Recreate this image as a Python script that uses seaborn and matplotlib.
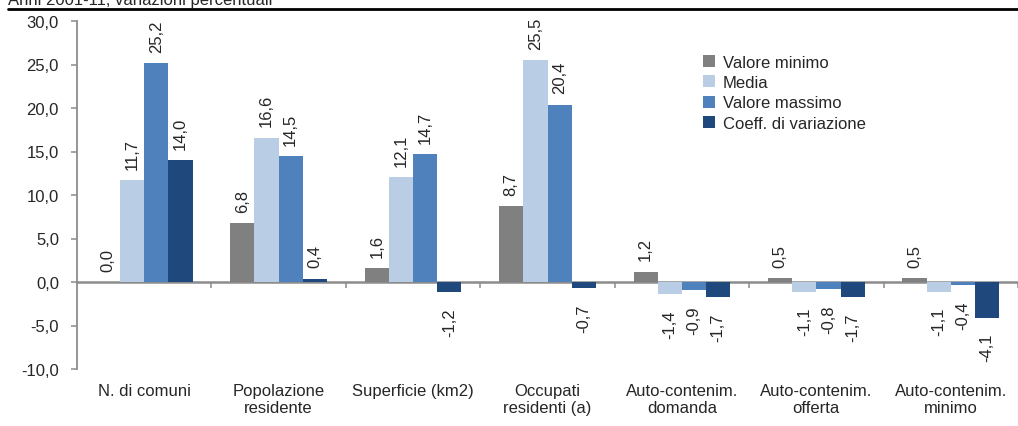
import numpy as np
import pandas as pd
import matplotlib.pyplot as plt
import matplotlib.ticker as mticker
from matplotlib.lines import Line2D
import seaborn as sns

# ---- data ----
categories = ["N. di comuni", "Popolazione\nresidente", "Superficie (km2)",
              "Occupati\nresidenti (a)", "Auto-contenim.\ndomanda",
              "Auto-contenim.\nofferta", "Auto-contenim.\nminimo"]
series_names = ["Valore minimo", "Media", "Valore massimo", "Coeff. di variazione"]
valore_minimo = [0.0, 6.8, 1.6, 8.7, 1.2, 0.5, 0.5]
media = [11.7, 16.6, 12.1, 25.5, -1.4, -1.1, -1.1]
valore_massimo = [25.2, 14.5, 14.7, 20.4, -0.9, -0.8, -0.4]
coeff_variazione = [14.0, 0.4, -1.2, -0.7, -1.7, -1.7, -4.1]
colors = ["#808080", "#b9cde5", "#4f81bd", "#1f497d"]

df = pd.DataFrame({"categoria": categories,
                   series_names[0]: valore_minimo,
                   series_names[1]: media,
                   series_names[2]: valore_massimo,
                   series_names[3]: coeff_variazione})
long = df.melt(id_vars="categoria", var_name="serie", value_name="valore")

# ---- style ----
sns.set_style("white")
plt.rcParams["font.family"] = ["Liberation Sans", "DejaVu Sans"]
plt.rcParams["font.size"] = 12
grey = "#8c8c8c"

fig = plt.figure(figsize=(10.18, 4.27), dpi=100)
ax = fig.add_axes([77 / 1018, 1 - 370 / 427, 1 - 77 / 1018, (370 - 22) / 427])

sns.barplot(data=long, x="categoria", y="valore", hue="serie",
            hue_order=series_names, palette=colors, order=categories,
            errorbar=None, width=0.72, linewidth=0, saturation=1, ax=ax)

fmt = lambda v: f"{v:.1f}".replace(".", ",")
for cont, vals in zip(ax.containers, [valore_minimo, media, valore_massimo, coeff_variazione]):
    pos = [fmt(v) if v >= 0 else "" for v in vals]
    neg = [fmt(v) if v < 0 else "" for v in vals]
    ax.bar_label(cont, labels=pos, rotation=90, padding=8, fontsize=12)
    ax.bar_label(cont, labels=neg, rotation=90, padding=11, fontsize=12)

ax.set_ylim(-10, 30)
ax.set_xlim(-0.5, len(categories) - 0.5)
ax.set_yticks(np.arange(-10, 31, 5))
ax.yaxis.set_major_formatter(mticker.FuncFormatter(lambda v, p: fmt(v)))
ax.set_xlabel("")
ax.set_ylabel("")

for s in ["top", "right", "bottom"]:
    ax.spines[s].set_visible(False)
ax.spines["left"].set_color(grey)
ax.spines["left"].set_linewidth(1.3)
ax.tick_params(axis="y", direction="out", length=4, width=1.1, color=grey,
               pad=9, labelsize=12, left=True)
ax.tick_params(axis="x", length=0, pad=10, labelsize=12)

# zero line with group separators
sec = ax.secondary_xaxis(0.25)
sec.set_xticks(np.arange(0.5, len(categories), 1.0))
sec.set_xticklabels([])
sec.tick_params(direction="out", length=4, width=1.1, color=grey)
for s in sec.spines.values():
    s.set_color(grey)
    s.set_linewidth(1.8)

ax.legend(loc="upper left", bbox_to_anchor=(0.658, 0.922), frameon=False,
          handlelength=0.75, handleheight=0.75, handletextpad=0.45,
          labelspacing=0.32, fontsize=12, borderaxespad=0)

# cropped header
fig.text(0.008, 1 - 5 / 427, "Anni 2001-11, variazioni percentuali",
         fontsize=12, va="baseline", ha="left")
fig.add_artist(Line2D([8 / 1018, 1.0], [1 - 10 / 427, 1 - 10 / 427],
                      color="black", linewidth=2))

fig.savefig("out.png", dpi=100)
